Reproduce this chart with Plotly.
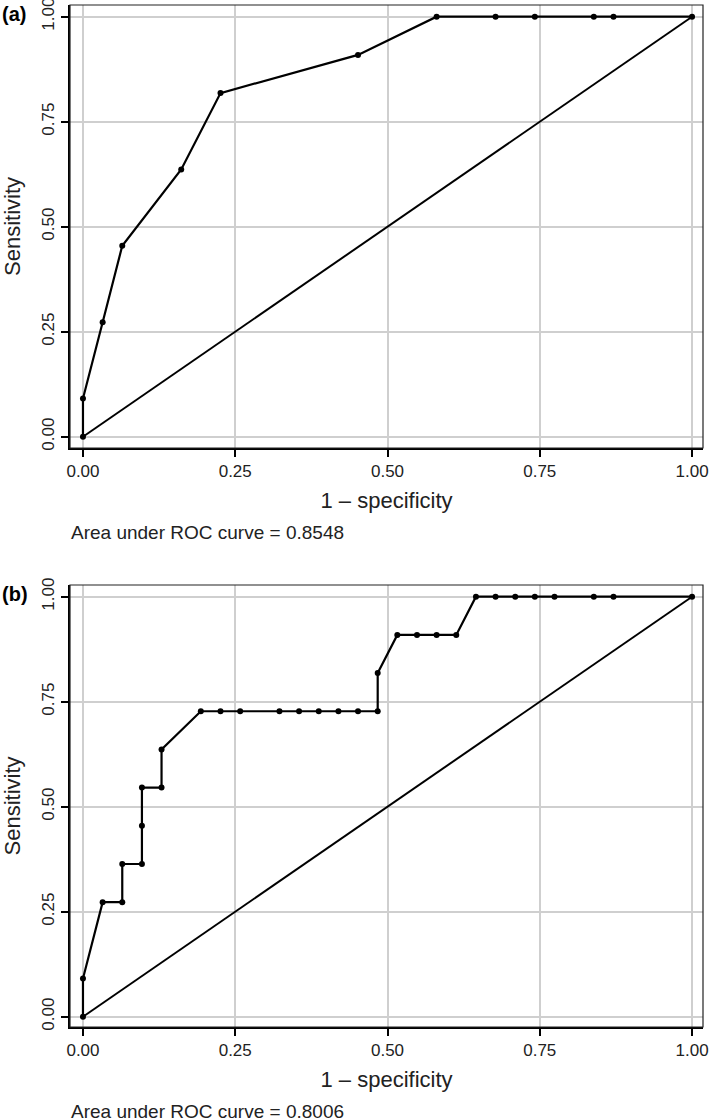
import plotly.graph_objects as go

# Panel (a) ROC points
fpr_a = [0.0, 0.0, 0.0323, 0.0645, 0.1613, 0.2258, 0.4516, 0.5806, 0.6774, 0.7419, 0.8387, 0.8710, 1.0]
tpr_a = [0.0, 0.0909, 0.2727, 0.4545, 0.6364, 0.8182, 0.9091, 1.0, 1.0, 1.0, 1.0, 1.0, 1.0]
auc_a = "0.8548"

# Panel (b) ROC points
fpr_b = [0.0, 0.0, 0.0323, 0.0645, 0.0645, 0.0968, 0.0968, 0.0968, 0.1290, 0.1290,
         0.1935, 0.2258, 0.2581, 0.3226, 0.3548, 0.3871, 0.4194, 0.4516, 0.4839, 0.4839,
         0.5161, 0.5484, 0.5806, 0.6129, 0.6452, 0.6774, 0.7097, 0.7419, 0.7742, 0.8387,
         0.8710, 1.0]
tpr_b = [0.0, 0.0909, 0.2727, 0.2727, 0.3636, 0.3636, 0.4545, 0.5455, 0.5455, 0.6364,
         0.7273, 0.7273, 0.7273, 0.7273, 0.7273, 0.7273, 0.7273, 0.7273, 0.7273, 0.8182,
         0.9091, 0.9091, 0.9091, 0.9091, 1.0, 1.0, 1.0, 1.0, 1.0, 1.0,
         1.0, 1.0]
auc_b = "0.8006"

ref_x = [0.0, 1.0]
ref_y = [0.0, 1.0]

tick_vals = [0, 0.25, 0.5, 0.75, 1.0]
tick_text = ["0.00", "0.25", "0.50", "0.75", "1.00"]
panel_labels = ["(a)", "(b)"]

W, H = 709, 1119
FONT = "Liberation Sans, Arial, sans-serif"

fig = go.Figure()

panels = [(fpr_a, tpr_a, auc_a, "x", "y"), (fpr_b, tpr_b, auc_b, "x2", "y2")]
for fx, ty, auc, xa, ya in panels:
    fig.add_trace(go.Scatter(x=fx, y=ty, mode="lines+markers", xaxis=xa, yaxis=ya,
                             line=dict(color="black", width=2.2),
                             marker=dict(color="black", size=6), showlegend=False,
                             hoverinfo="x+y"))
    fig.add_trace(go.Scatter(x=ref_x, y=ref_y, mode="lines", xaxis=xa, yaxis=ya,
                             line=dict(color="black", width=2), showlegend=False,
                             hoverinfo="skip"))

# pixel geometry
def px_x(p):
    return p / W

def px_y(p):
    return 1 - p / H

panel_geo = [
    dict(top=5, bottom=448, y_range=[-0.0269, 1.0279]),
    dict(top=585, bottom=1027, y_range=[-0.0245, 1.0279]),
]
x_dom = [px_x(70), px_x(703)]
x_range = [-0.0213, 1.018]

axis_common = dict(
    tickvals=tick_vals, ticktext=tick_text, showgrid=True, gridcolor="#cfcfcf", gridwidth=2,
    zeroline=False, showline=True, linecolor="black", linewidth=2, mirror=False,
    ticks="outside", ticklen=7, tickwidth=1.5, tickcolor="black", automargin=False,
    ticklabeloverflow="allow",
    tickfont=dict(family=FONT, size=17, color="#222"), fixedrange=True,
)

for i, g in enumerate(panel_geo):
    sfx = "" if i == 0 else str(i + 1)
    fig.update_layout(**{
        "xaxis" + sfx: dict(axis_common, domain=x_dom, range=x_range, anchor="y" + sfx,
                            title=dict(text="1 – specificity", font=dict(family=FONT, size=22, color="#222"),
                                       standoff=12)),
        "yaxis" + sfx: dict(axis_common, domain=[px_y(g["bottom"]), px_y(g["top"])], range=g["y_range"],
                            anchor="x" + sfx, tickangle=-90,
                            title=dict(text="Sensitivity", font=dict(family=FONT, size=22, color="#222"),
                                       standoff=14)),
    })
    # thin frame
    fig.add_shape(type="rect", xref="x" + sfx + " domain", yref="y" + sfx + " domain",
                  x0=0, x1=1, y0=0, y1=1, line=dict(color="#222", width=1.2), layer="above")
    fig.add_annotation(text="<b>" + panel_labels[i] + "</b>", xref="paper", yref="paper",
                       x=0, y=px_y(g["top"] - 4), xanchor="left", yanchor="top", showarrow=False,
                       font=dict(family=FONT, size=20, color="black"))
    fig.add_annotation(text="Area under ROC curve = " + [auc_a, auc_b][i], xref="paper", yref="paper",
                       x=px_x(69), y=px_y(g["bottom"] + 84), xanchor="left", yanchor="middle",
                       showarrow=False, font=dict(family=FONT, size=19, color="#222"))

fig.update_layout(width=W, height=H, margin=dict(l=0, r=0, t=0, b=0),
                  paper_bgcolor="white", plot_bgcolor="white", showlegend=False)

fig.write_html("out.html", config={"displayModeBar": False},
               post_script="document.body.style.margin='0';document.body.style.overflow='hidden';")
